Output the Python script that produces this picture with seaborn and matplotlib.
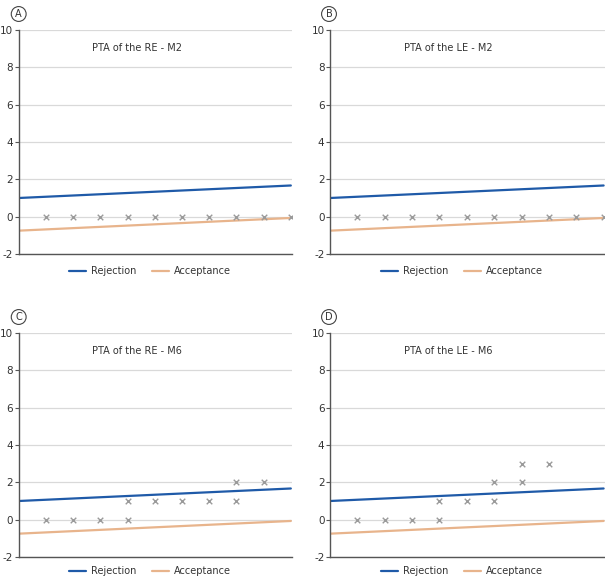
import pandas as pd
import numpy as np
import matplotlib
matplotlib.use("Agg")
import matplotlib.pyplot as plt
import seaborn as sns

# limit lines (same on every panel)
line_x = [0, 10]
rejection = [1.0, 1.67]
acceptance = [-0.75, -0.07]

# PTA differences per panel
a_x = [1, 2, 3, 4, 5, 6, 7, 8, 9, 10]
a_y = [0, 0, 0, 0, 0, 0, 0, 0, 0, 0]
b_x = [1, 2, 3, 4, 5, 6, 7, 8, 9, 10]
b_y = [0, 0, 0, 0, 0, 0, 0, 0, 0, 0]
c_x = [1, 2, 3, 4, 4, 5, 6, 7, 8, 8, 9]
c_y = [0, 0, 0, 0, 1, 1, 1, 1, 1, 2, 2]
d_x = [1, 2, 3, 4, 4, 5, 6, 6, 7, 7, 8]
d_y = [0, 0, 0, 0, 1, 1, 1, 2, 2, 3, 3]

titles = ["PTA of the RE - M2", "PTA of the LE - M2", "PTA of the RE - M6", "PTA of the LE - M6"]
letters = ["A", "B", "C", "D"]
yticks = [-2, 0, 2, 4, 6, 8, 10]

sns.set_style("white")
plt.rcParams['font.family'] = ['DejaVu Sans']
plt.rcParams['axes.unicode_minus'] = False

fig = plt.figure(figsize=(6.05, 5.78), dpi=100)
W, H = 605, 578
# pixel boxes (left, top-of-axes, width, height)
boxes = [(18.7, 30, 273.5, 224), (330, 30, 275, 224), (18.7, 333, 273.5, 224), (330, 333, 275, 224)]
scatters = [(a_x, a_y), (b_x, b_y), (c_x, c_y), (d_x, d_y)]

blue = '#1f5aa8'
tan = '#e8b48c'

lines_df = pd.DataFrame({
    'x': line_x * 2,
    'y': rejection + acceptance,
    'limit': ['Rejection'] * 2 + ['Acceptance'] * 2,
})

for i, (l, t, w, h) in enumerate(boxes):
    ax = fig.add_axes([l / W, 1 - (t + h) / H, w / W, h / H])
    sns.lineplot(data=lines_df, x='x', y='y', hue='limit', palette=[blue, tan], linewidth=1.6, ax=ax)
    sx, sy = scatters[i]
    sns.scatterplot(x=sx, y=sy, marker='x', color='#9a9a9a', s=16, linewidth=1.0, ax=ax, zorder=3)

    ax.set_xlim(0, 10.05)
    ax.set_ylim(-2, 10)
    ax.set_yticks(yticks)
    ax.set_xticks([])
    ax.set_xlabel('')
    ax.set_ylabel('')
    ax.yaxis.grid(True, color='#d9d9d9', linewidth=0.9)
    ax.set_axisbelow(True)
    for s in ['top', 'right']:
        ax.spines[s].set_visible(False)
    for s in ['left', 'bottom']:
        ax.spines[s].set_color('#555555')
        ax.spines[s].set_linewidth(1.0)
    ax.tick_params(axis='y', length=3, width=0.8, color='#555555', labelsize=7.5, labelcolor='#333333', pad=1, left=True)

    ax.text(2.7, 9.05, titles[i], fontsize=7, color='#333333', va='center', ha='left')

    # bottom row legend sits a bit closer to the axis
    leg_y = -0.015 if i < 2 else -0.002
    handles, labels = ax.get_legend_handles_labels()
    ax.legend(handles[:2], ['Rejection', 'Acceptance'], loc='upper center', bbox_to_anchor=(0.48, leg_y),
              ncol=2, frameon=False, fontsize=7, handlelength=1.7, handletextpad=0.5,
              columnspacing=1.7, labelcolor='#333333')

    cx = l if i % 2 == 0 else l - 1
    cy = t - 16
    fig.text(cx / W, 1 - cy / H, letters[i], fontsize=7, ha='center', va='center', color='#333333',
             bbox=dict(boxstyle='circle,pad=0.25', fc='white', ec='#444444', lw=0.8))

fig.savefig('out.png', dpi=100)
